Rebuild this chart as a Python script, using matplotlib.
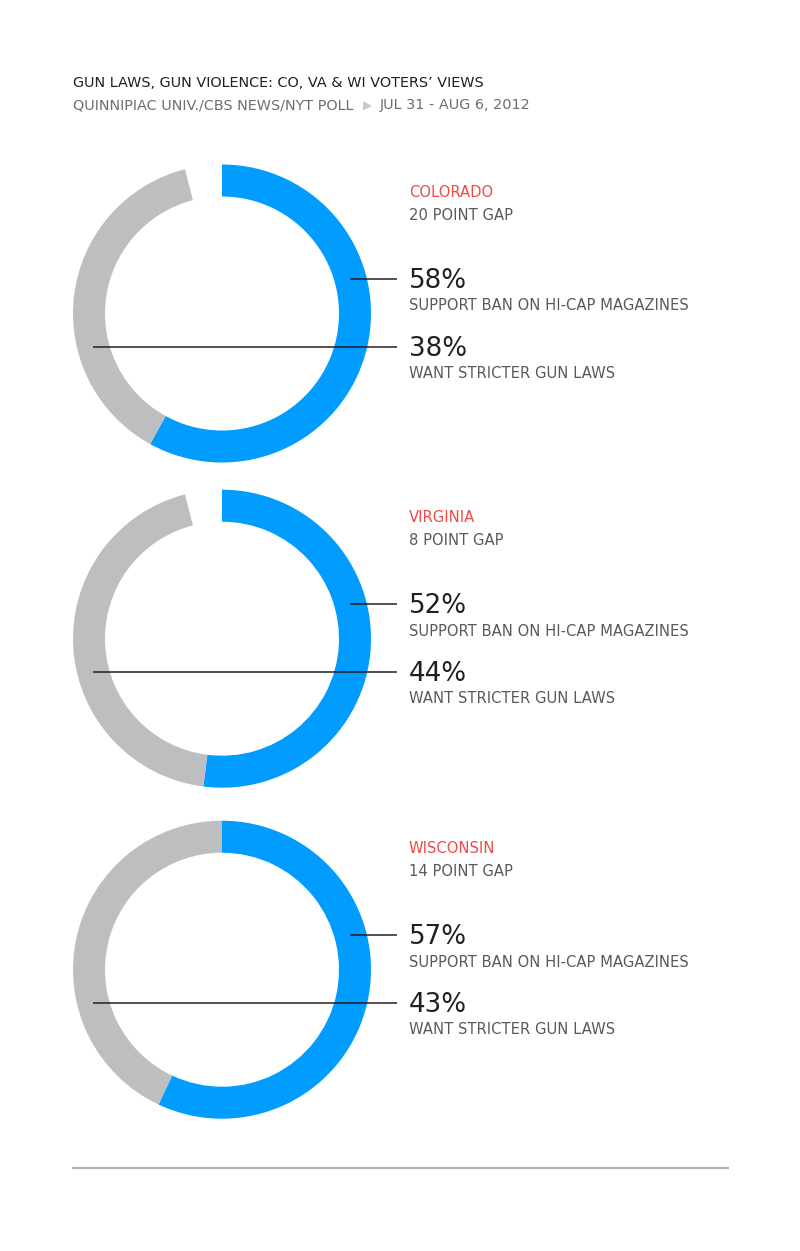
import matplotlib
matplotlib.use("Agg")
import matplotlib.pyplot as plt
import numpy as np

# ---- data ----
states = ["COLORADO", "VIRGINIA", "WISCONSIN"]
ban_support = [58, 52, 57]        # % support ban on hi-cap magazines
stricter_laws = [38, 44, 43]      # % want stricter gun laws
label_ban = "SUPPORT BAN ON HI-CAP MAGAZINES"
label_laws = "WANT STRICTER GUN LAWS"
title = "GUN LAWS, GUN VIOLENCE: CO, VA & WI VOTERS\u2019 VIEWS"
source = "QUINNIPIAC UNIV./CBS NEWS/NYT POLL"
dates = "JUL 31 - AUG 6, 2012"

# ---- style ----
BLUE = "#009cff"
GRAY = "#bcbec0"
RED = "#ef4a46"
DARK = "#231f20"
MID = "#58595b"
plt.rcParams["font.family"] = ["DejaVu Sans"]
SMALL = 10.6
HEAD = 10.4

W, H = 800, 1251
fig = plt.figure(figsize=(W / 100, H / 100), dpi=100)
ax = fig.add_axes([0, 0, 1, 1])

centers_y = [313.5, 638.7, 969.7]
cx = 222.0
R_OUT, R_W = 149.0, 32.0
R_MID = R_OUT - R_W / 2
TEXT_X = 409
LINE_END = 397

for i, st in enumerate(states):
    cy = centers_y[i]
    b, g = ban_support[i], stricter_laws[i]
    gap = 100 - b - g
    ax.pie([b, g, gap], colors=[BLUE, GRAY, "none"], startangle=-90,
           counterclock=True, radius=R_OUT, center=(cx, cy), frame=True,
           wedgeprops=dict(width=R_W, linewidth=0))
    y1 = cy - 34.5
    y2 = cy + 33.0
    x1 = cx + np.sqrt(R_MID ** 2 - (y1 - cy) ** 2)
    x2 = cx - np.sqrt(R_MID ** 2 - (y2 - cy) ** 2)
    ax.plot([x1, LINE_END], [y1, y1], color=DARK, lw=1.1, zorder=5,
            solid_capstyle="butt")
    ax.plot([x2, LINE_END], [y2, y2], color=DARK, lw=1.1, zorder=5,
            solid_capstyle="butt")
    ax.text(TEXT_X, y1 - 82, st, color=RED, fontsize=SMALL, va="baseline")
    ax.text(TEXT_X, y1 - 59, f"{b - g} POINT GAP", color=MID, fontsize=SMALL,
            va="baseline")
    ax.text(TEXT_X, y1 + 9, f"{b}%", color=DARK, fontsize=18.8, va="baseline")
    ax.text(TEXT_X, y1 + 31.5, label_ban, color=MID, fontsize=SMALL, va="baseline")
    ax.text(TEXT_X, y2 + 9, f"{g}%", color=DARK, fontsize=18.8, va="baseline")
    ax.text(TEXT_X, y2 + 31.5, label_laws, color=MID, fontsize=SMALL, va="baseline")

# header
ax.text(73, 87.3, title, color=DARK, fontsize=HEAD, va="baseline")
t_src = ax.text(73, 109.3, source, color="#6d6e71", fontsize=HEAD, va="baseline")

# bottom rule
ax.plot([72, 729], [1167.5, 1167.5], color="#b1b3b6", lw=1.6,
        solid_capstyle="butt")

ax.set_xlim(0, W)
ax.set_ylim(H, 0)
ax.set_aspect("equal")
ax.axis("off")

fig.canvas.draw()
bb = t_src.get_window_extent()
inv = ax.transData.inverted()
x_end = inv.transform((bb.x1, bb.y0))[0]
ax.text(x_end + 10, 109.3, "\u25b6", color="#c7c8ca", fontsize=8.5, va="baseline")
ax.text(x_end + 26, 109.3, dates, color="#6d6e71", fontsize=HEAD, va="baseline")

fig.savefig("out.png", dpi=100, facecolor="white")
